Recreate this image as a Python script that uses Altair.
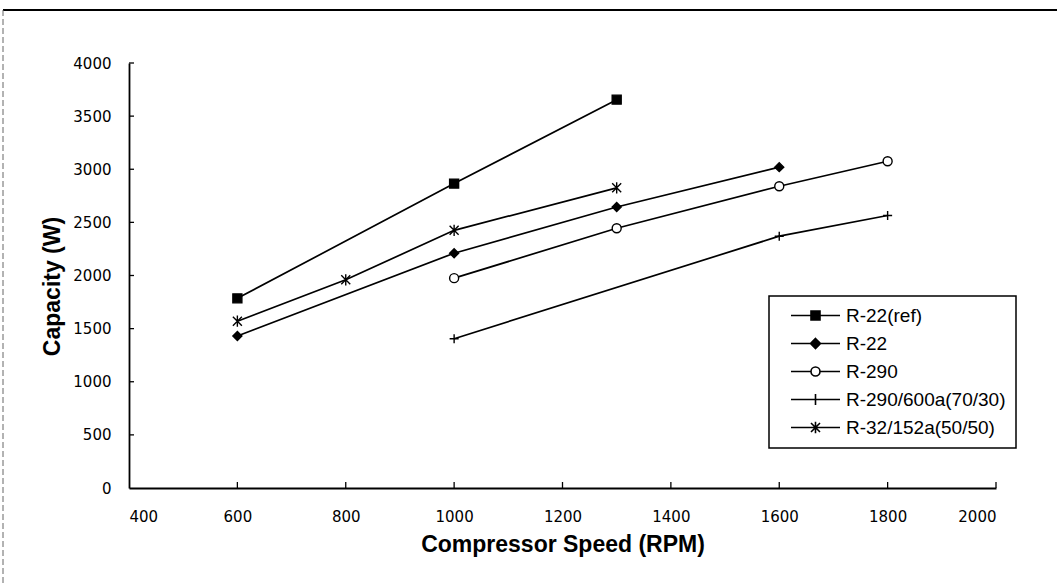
import altair as alt
import pandas as pd

# ---------------- data ----------------
series_names = ["R-22(ref)", "R-22", "R-290", "R-290/600a(70/30)", "R-32/152a(50/50)"]

ref_rpm = [600, 1000, 1300]
ref_cap = [1785, 2865, 3655]

r22_rpm = [600, 1000, 1300, 1600]
r22_cap = [1430, 2210, 2645, 3020]

r290_rpm = [1000, 1300, 1600, 1800]
r290_cap = [1975, 2445, 2840, 3075]

mix_rpm = [1000, 1600, 1800]
mix_cap = [1405, 2370, 2565]

r32_rpm = [600, 800, 1000, 1300]
r32_cap = [1570, 1960, 2425, 2825]

x_tick_values = [400, 600, 800, 1000, 1200, 1400, 1600, 1800, 2000]
y_tick_values = [0, 500, 1000, 1500, 2000, 2500, 3000, 3500, 4000]

rows = []
for name, xs, ys in zip(series_names,
                        [ref_rpm, r22_rpm, r290_rpm, mix_rpm, r32_rpm],
                        [ref_cap, r22_cap, r290_cap, mix_cap, r32_cap]):
    for xv, yv in zip(xs, ys):
        rows.append({"Series": name, "Speed": xv, "Capacity": yv})
df = pd.DataFrame(rows)

# ---------------- styling ----------------
W, H = 867, 425
PAD_L, PAD_T = 129, 63
TOTAL_W, TOTAL_H = 1057, 584

point_shapes = [
    "square",
    "diamond",
    "circle",
    "M-1,0H1M0,-1V1",
    "M-1,-1L1,1M-1,1L1,-1M0,-1.25V1.25",
]
legend_shapes = [
    "M-4.9,0H4.9M-0.9,-0.9H0.9V0.9H-0.9Z",
    "M-4.9,0H4.9M0,-1L1,0L0,1L-1,0Z",
    "M-4.9,0H-0.9M0.9,0H4.9M0.9,0A0.9,0.9 0 1,1 -0.9,0A0.9,0.9 0 1,1 0.9,0Z",
    "M-4.9,0H4.9M0,-1.1V1.1",
    "M-4.9,0H4.9M-0.9,-0.9L0.9,0.9M-0.9,0.9L0.9,-0.9M0,-1.15V1.15",
]
fills = ["black", "black", "white", "black", "black"]
strokes = ["black", "black", "black", "black", "black"]

x_scale = alt.Scale(domain=[400, 2000], nice=False, zero=False)
y_scale = alt.Scale(domain=[0, 4000], nice=False)

x_axis = alt.Axis(values=x_tick_values, title="Compressor Speed (RPM)", ticks=False, format="d",
                  labelPadding=21, titleY=56, titleBaseline="middle")
y_axis = alt.Axis(values=y_tick_values, title="Capacity (W)", ticks=False, format="d",
                  labelPadding=18, titleX=-77, titleY=223, titleBaseline="middle",
                  titleAlign="center", titleAngle=270)

base = alt.Chart(df)

lines = base.mark_line(color="black", strokeWidth=1.7).encode(
    x=alt.X("Speed:Q", scale=x_scale, axis=x_axis),
    y=alt.Y("Capacity:Q", scale=y_scale, axis=y_axis),
    detail="Series:N",
)

points = base.mark_point(size=81, stroke="black", strokeWidth=1.4, opacity=1).encode(
    x=alt.X("Speed:Q", scale=x_scale, axis=x_axis),
    y=alt.Y("Capacity:Q", scale=y_scale, axis=y_axis),
    shape=alt.Shape("Series:N", scale=alt.Scale(domain=series_names, range=point_shapes), legend=None),
    fill=alt.Fill("Series:N", scale=alt.Scale(domain=series_names, range=fills), legend=None),
)

leg = alt.Legend(title=None, orient="none", legendX=640, legendY=233,
                 strokeColor="black", padding=10, symbolSize=100, symbolOffset=27,
                 labelOffset=21, labelFont="Liberation Sans", labelFontSize=19,
                 labelColor="black", rowPadding=8, symbolStrokeWidth=1.6,
                 symbolStrokeColor="black", symbolOpacity=1, labelLimit=400)

legend_layer = base.mark_point(size=100, strokeWidth=1.6, opacity=0).encode(
    x=alt.X("Speed:Q", scale=x_scale, axis=x_axis),
    y=alt.Y("Capacity:Q", scale=y_scale, axis=y_axis),
    shape=alt.Shape("Series:N", scale=alt.Scale(domain=series_names, range=legend_shapes), legend=leg),
    fill=alt.Fill("Series:N", scale=alt.Scale(domain=series_names, range=fills), legend=leg),
    stroke=alt.Stroke("Series:N", scale=alt.Scale(domain=series_names, range=strokes), legend=leg),
)

xt = pd.DataFrame({"Speed": x_tick_values[1:]})
yt = pd.DataFrame({"Capacity": y_tick_values[1:]})

x_ticks = alt.Chart(xt).mark_rule(color="black", strokeWidth=1.3).encode(
    x=alt.X("Speed:Q", scale=x_scale, axis=x_axis),
    y=alt.value(H), y2=alt.value(H - 6),
)
y_ticks = alt.Chart(yt).mark_rule(color="black", strokeWidth=1.3).encode(
    y=alt.Y("Capacity:Q", scale=y_scale, axis=y_axis),
    x=alt.value(0), x2=alt.value(5),
)

dummy = pd.DataFrame({"k": [0]})
frame_top = alt.Chart(dummy).mark_rule(color="black", strokeWidth=2).encode(
    x=alt.value(3 - PAD_L), x2=alt.value(TOTAL_W - PAD_L), y=alt.value(10 - PAD_T),
)
frame_left = alt.Chart(dummy).mark_rule(color="#666666", strokeWidth=1, strokeDash=[6, 3]).encode(
    x=alt.value(3 - PAD_L), y=alt.value(10 - PAD_T), y2=alt.value(TOTAL_H - PAD_T),
)

chart = alt.layer(
    frame_top, frame_left, x_ticks, y_ticks, lines, points, legend_layer
).resolve_scale(
    shape="independent", fill="independent", stroke="independent"
).properties(
    width=W, height=H,
    autosize=alt.AutoSizeParams(type="none"),
    padding={"left": PAD_L, "top": PAD_T, "right": TOTAL_W - PAD_L - W, "bottom": TOTAL_H - PAD_T - H},
    background="white",
).configure_view(
    stroke=None
).configure_axis(
    grid=False,
    domainColor="black",
    domainWidth=1.8,
    labelFont="DejaVu Sans",
    labelFontSize=15,
    labelColor="black",
    titleFont="Liberation Sans",
    titleFontWeight="bold",
    titleFontSize=23,
    titleColor="black",
).configure_legend(
    strokeWidth=1.5,
)

chart.save("out.html", embed_options={"renderer": "svg", "actions": False})
